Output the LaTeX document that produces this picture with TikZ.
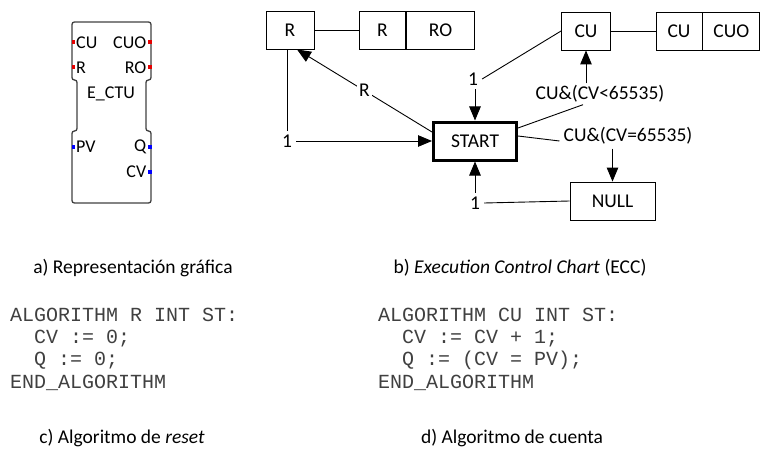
\documentclass[tikz,border=0pt]{standalone}
\usepackage{fontspec}
\setmainfont{Carlito}
\newfontfamily\codefont{Liberation Mono}
\usetikzlibrary{arrows.meta,calc}

\tikzset{
  fbline/.style={draw=black!75, line width=1.3pt, rounded corners=2.4pt},
  fbtext/.style={font=\fontsize{18}{20}\selectfont, inner sep=0pt},
  stbox/.style={draw, line width=0.9pt, minimum height=38pt, inner sep=0pt,
    font=\fontsize{19.5}{22}\selectfont},
  initbox/.style={stbox, line width=3pt},
  lbl/.style={inner sep=4pt, font=\fontsize{19.5}{22}\selectfont},
  link/.style={line width=0.9pt},
  trans/.style={link, -{Triangle[length=14pt,width=11.5pt]}},
  caption/.style={font=\fontsize{19.5}{22}\selectfont, inner sep=0pt},
  codeline/.style={font=\codefont\fontsize{20}{23}\selectfont, anchor=base west,
    inner sep=0pt, text=black!75},
  redport/.style={fill=red!90!black},
  blueport/.style={fill=blue}
}

\begin{document}
\begin{tikzpicture}[x=1pt,y=-1pt]
\useasboundingbox (0,0) rectangle (761,452);

% ---------- function block E_CTU ----------
\draw[fbline] (72,22) -- (151,22) -- (151,80) -- (146,80) -- (146,131)
  -- (151,131) -- (151,203) -- (72,203) -- (72,131) -- (77,131)
  -- (77,80) -- (72,80) -- cycle;
\fill[redport] (71.5,40.5) rectangle (75,44.5);
\fill[redport] (71.5,65.5) rectangle (75,69.5);
\fill[redport] (148,40.5) rectangle (151.5,44.5);
\fill[redport] (148,65.5) rectangle (151.5,69.5);
\fill[blueport] (71.5,145) rectangle (75,149);
\fill[blueport] (148,145) rectangle (151.5,149);
\fill[blueport] (148,170) rectangle (151.5,174);
\node[fbtext, anchor=west] (fbcu) at (76,43) {CU};
\node[fbtext, anchor=east] (fbcuo) at (146.5,43) {CUO};
\node[fbtext, anchor=west] (fbr) at (76,68) {R};
\node[fbtext, anchor=east] (fbro) at (146.5,68) {RO};
\node[fbtext] (fbname) at (111,94) {E\_CTU};
\node[fbtext, anchor=west] (fbpv) at (76,147) {PV};
\node[fbtext, anchor=east] (fbq) at (146.5,147) {Q};
\node[fbtext, anchor=east] (fbcv) at (146.5,172) {CV};

% ---------- execution control chart ----------
\node[initbox, minimum width=83pt] (S) at (475,141) {START};
\node[stbox, minimum width=48pt] (Rs) at (290,30) {R};
\node[stbox, minimum width=46.5pt] (Ra1) at (382.5,30) {R};
\node[stbox, minimum width=68pt, anchor=west] (Ra2) at (Ra1.east) {RO};
\node[stbox, minimum width=49pt] (CUs) at (586,31) {CU};
\node[stbox, minimum width=46pt] (CUa1) at (679,31) {CU};
\node[stbox, minimum width=57pt, anchor=west] (CUa2) at (CUa1.east) {CUO};
\node[stbox, minimum width=85pt] (N) at (612.5,201) {NULL};

% action links
\draw[link] (Rs.east) -- (Ra1.west);
\draw[link] (CUs.east) -- (CUa1.west);

% R -> START
\node[lbl] (one1) at (287,141) {1};
\draw[link] (Rs.south -| one1.north) -- (one1.north);
\draw[trans] (one1.east) -- (S.west);

% CU -> START
\node[lbl] (one2) at (473,79) {1};
\draw[link] (CUs.west) -- (one2.east);
\draw[trans] (one2.south -| S.north) -- (S.north);

% NULL -> START
\node[lbl] (one3) at (475,203) {1};
\draw[link] (N.west) -- (one3.east);
\draw[trans] (one3.north -| S.south) -- (S.south);

% START -> R
\draw[trans] ([yshift=9pt]S.west) -- node[lbl, inner sep=2pt, fill=white, pos=0.5] (rlab) {R}
  ([xshift=7pt]Rs.south);

% START -> CU
\node[lbl, inner sep=2pt] (cond1) at (600,94) {CU\&(CV<65535)};
\draw[link] ([yshift=13pt]S.east) -- ([xshift=-17pt]cond1.south);
\draw[trans] (cond1.north -| CUs.south) -- (CUs.south);

% START -> NULL
\node[lbl] (cond2) at (628,136) {CU\&(CV=65535)};
\draw[link] ([yshift=5pt]S.east) -- (S.east -| cond2.west) ;
\draw[trans] (cond2.south -| N.north) -- (N.north);

% ---------- captions ----------
\node[caption] (capa) at (133,268) {a) Representación gráfica};
\node[caption] (capb) at (520,268) {b) \textit{Execution Control Chart} (ECC)};
\node[caption] (capc) at (122,438) {c) Algoritmo de \textit{reset}};
\node[caption] (capd) at (512,438) {d) Algoritmo de cuenta};

% ---------- algorithms ----------
\node[codeline] (r1) at (10,321) {ALGORITHM R INT ST:};
\node[codeline] (r2) at (34,343) {CV := 0;};
\node[codeline] (r3) at (34,365) {Q := 0;};
\node[codeline] (r4) at (10,388) {END\_ALGORITHM};
\node[codeline] (c1) at (378,321) {ALGORITHM CU INT ST:};
\node[codeline] (c2) at (402,343) {CV := CV + 1;};
\node[codeline] (c3) at (402,365) {Q := (CV = PV);};
\node[codeline] (c4) at (378,388) {END\_ALGORITHM};
\end{tikzpicture}
\end{document}
